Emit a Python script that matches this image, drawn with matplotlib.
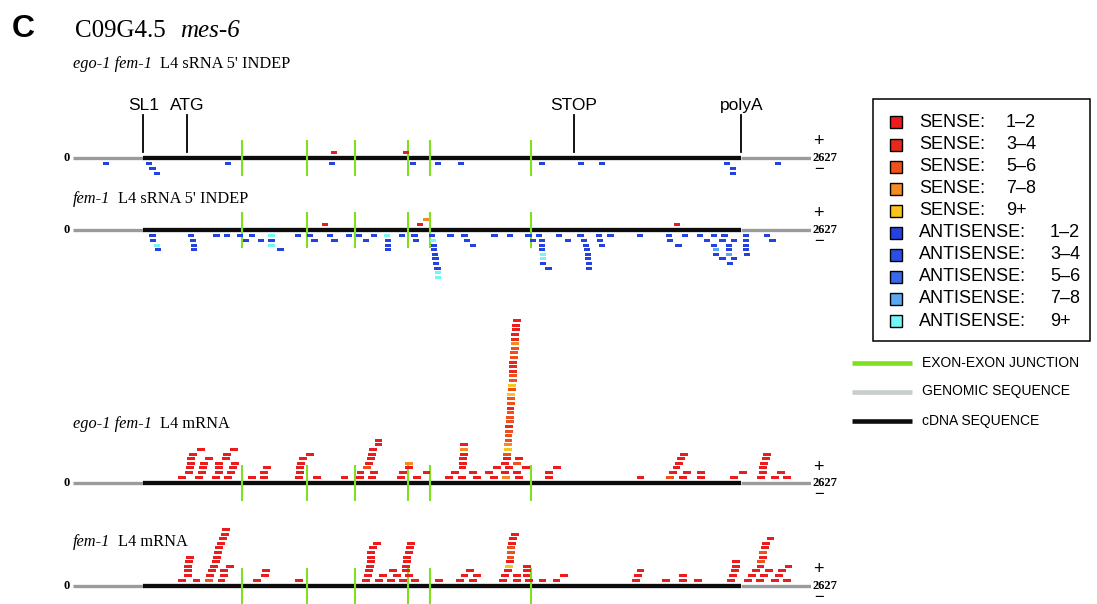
import matplotlib
matplotlib.use("Agg")
import matplotlib.pyplot as plt
from matplotlib.patches import Rectangle
from matplotlib.lines import Line2D

# ---------------------------------------------------------------- gene model
GENE_LEN = 2627
CDNA_START, CDNA_END = 250, 2380
LANDMARK_NAMES = ["SL1", "ATG", "STOP", "polyA"]
LANDMARK_POS = [250, 405, 1784, 2380]
JUNCTIONS = [601, 832, 1004, 1192, 1271, 1631]

COUNT_BINS = ["1\u20132", "3\u20134", "5\u20136", "7\u20138", "9+"]
SENSE_COLORS = ["#ec1c1c", "#e8281a", "#f2501a", "#f58a22", "#f8c51c"]
ANTI_COLORS = ["#2442e2", "#2a4ee6", "#3a68ea", "#5aa6f2", "#72f6f6"]

SRNA_LEN = 22
MRNA_LEN = 28

# reads: (start position, stack level, count bin index)
ego_srna_sense = [(918, 1, 0), (1174, 1, 0)]
ego_srna_anti = [
    (106, 1, 0), (260, 1, 0), (272, 2, 0), (288, 3, 0), (540, 1, 0),
    (910, 1, 0), (1200, 1, 0), (1288, 1, 0), (1371, 1, 0), (1660, 1, 0),
    (1798, 1, 0), (1874, 1, 0), (2319, 1, 0), (2338, 2, 0), (2338, 3, 0),
    (2499, 1, 0),
]

fem_srna_sense = [(886, 1, 0), (1224, 1, 0), (1245, 2, 3), (2140, 1, 0)]
fem_srna_anti = [
    (272, 1, 0), (274, 2, 0), (288, 3, 4), (293, 4, 0),
    (410, 1, 0), (417, 2, 0), (419, 3, 0), (419, 4, 0),
    (500, 1, 0), (538, 1, 0), (583, 1, 0), (626, 1, 0), (604, 2, 0), (659, 2, 0),
    (696, 1, 4), (696, 2, 0), (696, 3, 4), (728, 4, 0),
    (789, 1, 0), (834, 1, 0), (849, 2, 0), (903, 1, 0), (920, 2, 0),
    (972, 1, 0), (1008, 1, 0), (1032, 2, 0), (1062, 1, 0),
    (1108, 1, 4), (1111, 2, 0), (1111, 3, 0), (1111, 4, 0),
    (1162, 1, 0), (1205, 1, 0), (1210, 2, 0),
    (1268, 1, 0), (1271, 2, 4), (1275, 3, 0), (1275, 4, 0), (1277, 5, 0),
    (1280, 6, 0), (1281, 7, 0), (1287, 8, 0), (1289, 9, 4), (1289, 10, 4),
    (1333, 1, 0), (1383, 1, 0), (1392, 2, 0), (1414, 3, 0),
    (1490, 1, 0), (1544, 1, 0), (1611, 1, 0), (1627, 2, 0),
    (1649, 1, 0), (1660, 2, 0), (1660, 3, 0), (1660, 4, 0), (1663, 5, 4),
    (1663, 6, 4), (1663, 7, 0), (1682, 8, 0),
    (1720, 1, 0), (1752, 2, 0),
    (1796, 1, 0), (1809, 2, 0), (1817, 3, 0), (1820, 4, 0), (1822, 5, 0),
    (1824, 6, 0), (1827, 7, 0), (1827, 8, 0),
    (1862, 1, 0), (1865, 2, 0), (1874, 3, 0), (1903, 1, 0), (2007, 1, 0),
    (2112, 1, 0), (2114, 2, 0), (2145, 3, 0), (2169, 1, 0),
    (2223, 1, 0), (2247, 2, 0),
    (2271, 1, 0), (2271, 3, 0), (2280, 4, 3), (2280, 5, 0), (2302, 2, 0), (2302, 6, 0),
    (2309, 1, 0), (2325, 3, 0), (2325, 4, 0), (2325, 5, 3), (2342, 2, 0),
    (2344, 6, 0), (2328, 7, 0),
    (2385, 1, 0), (2387, 2, 0), (2387, 3, 0), (2387, 4, 0), (2390, 5, 0),
    (2461, 1, 0), (2480, 2, 0),
]

ego_mrna_sense = [
    # 5' region
    (374, 1, 0), (400, 2, 0), (402, 3, 0), (405, 4, 0), (407, 5, 0), (412, 6, 0), (441, 7, 0),
    (436, 1, 0), (445, 2, 0), (448, 3, 0), (452, 4, 0), (469, 5, 0),
    (495, 1, 0), (505, 2, 0), (505, 3, 0), (507, 4, 0), (531, 5, 0), (535, 6, 0), (559, 7, 0),
    (538, 1, 0), (550, 2, 0), (555, 3, 0), (562, 4, 0),
    (623, 1, 0), (666, 1, 0), (666, 2, 0), (678, 3, 0),
    (790, 1, 0), (794, 2, 0), (794, 3, 0), (799, 4, 0), (806, 5, 0), (830, 6, 0),
    (856, 1, 0), (953, 1, 0),
    (1008, 1, 0), (1010, 2, 0), (1034, 3, 2), (1039, 4, 0), (1046, 5, 0),
    (1051, 6, 0), (1053, 7, 0), (1074, 8, 0), (1074, 9, 0),
    (1051, 1, 0), (1058, 2, 0),
    (1155, 1, 0), (1162, 2, 0), (1181, 3, 0), (1181, 4, 3),
    (1210, 1, 0), (1245, 2, 0),
    # middle exons
    (1324, 1, 0), (1345, 2, 0),
    (1371, 1, 0), (1373, 3, 0), (1376, 4, 0), (1376, 5, 0), (1378, 6, 0),
    (1378, 7, 3), (1378, 8, 0),
    (1409, 2, 0), (1426, 1, 0), (1466, 2, 0), (1485, 1, 0), (1497, 3, 0),
    (1523, 2, 0), (1528, 1, 3), (1540, 3, 0),
    (1566, 2, 0), (1568, 4, 2), (1575, 1, 0), (1575, 5, 0), (1599, 3, 0),
    # highly expressed stack
    (1525, 4, 0), (1530, 5, 0), (1532, 6, 2), (1535, 7, 4), (1535, 8, 3),
    (1537, 9, 2), (1537, 10, 2), (1540, 11, 2), (1540, 12, 1), (1542, 13, 2),
    (1542, 14, 2), (1544, 15, 2), (1544, 16, 1), (1547, 17, 2), (1547, 18, 2),
    (1547, 19, 4), (1549, 20, 2), (1549, 21, 4), (1552, 22, 2), (1552, 23, 2),
    (1552, 24, 1), (1554, 25, 1), (1554, 26, 1), (1556, 27, 2), (1556, 28, 2),
    (1559, 29, 2), (1559, 30, 3), (1561, 31, 1), (1561, 32, 0), (1563, 33, 0),
    (1563, 34, 0), (1568, 35, 0),
    # 3' region
    (1680, 1, 0), (1680, 2, 0), (1710, 3, 0),
    (2007, 1, 0),
    (2112, 1, 2), (2123, 2, 0), (2135, 3, 0), (2145, 4, 0), (2152, 5, 0), (2162, 6, 0),
    (2159, 1, 0), (2171, 2, 0),
    (2221, 1, 0), (2221, 2, 0),
    (2340, 1, 0), (2373, 2, 0),
    (2437, 1, 0), (2442, 2, 0), (2444, 3, 0), (2446, 4, 0), (2453, 5, 0), (2458, 6, 0),
    (2485, 1, 0), (2506, 2, 0), (2530, 1, 0),
]

fem_mrna_sense = [
    (375, 1, 0), (395, 2, 0), (395, 3, 0), (395, 4, 0), (400, 5, 0), (402, 6, 0),
    (426, 1, 0),
    (470, 1, 2), (474, 2, 0), (482, 3, 0), (488, 4, 0), (495, 5, 0), (500, 6, 0),
    (502, 7, 0), (505, 8, 0), (512, 9, 0), (519, 10, 0), (526, 11, 0), (531, 12, 0),
    (515, 1, 0), (524, 2, 0), (524, 3, 0), (545, 4, 0),
    (640, 1, 0), (671, 2, 0), (673, 3, 0),
    (792, 1, 0),
    (1029, 1, 0), (1036, 2, 0), (1041, 3, 0), (1043, 4, 0), (1046, 5, 0),
    (1046, 6, 0), (1048, 7, 0), (1053, 8, 0), (1069, 9, 0),
    (1077, 1, 0), (1089, 2, 0), (1119, 1, 0), (1126, 3, 0), (1141, 2, 0),
    (1162, 1, 0), (1172, 3, 0), (1172, 4, 0), (1176, 5, 0), (1176, 6, 0),
    (1181, 7, 0), (1183, 2, 0), (1186, 8, 0), (1191, 9, 0),
    (1205, 1, 0),
    (1290, 1, 0), (1364, 1, 0), (1380, 2, 0), (1400, 3, 0), (1409, 1, 0), (1425, 2, 0),
    (1518, 1, 0), (1525, 2, 0), (1535, 3, 0), (1540, 4, 4), (1542, 5, 0),
    (1544, 6, 2), (1547, 7, 2), (1547, 8, 2), (1549, 9, 0), (1552, 10, 0), (1559, 11, 0),
    (1566, 1, 0), (1568, 2, 0), (1601, 2, 0), (1604, 3, 0), (1604, 4, 0),
    (1611, 1, 0), (1658, 1, 0), (1708, 1, 0), (1734, 2, 0),
    (1991, 1, 0), (1998, 2, 0), (2007, 3, 0),
    (2097, 1, 0), (2157, 1, 0), (2157, 2, 0), (2211, 1, 0),
    (2330, 1, 0), (2335, 2, 0), (2342, 3, 0), (2347, 4, 0), (2347, 5, 0),
    (2389, 1, 0), (2404, 2, 0), (2418, 3, 0),
    (2432, 1, 0), (2446, 2, 0), (2463, 3, 0), (2434, 4, 0), (2437, 5, 2),
    (2442, 6, 0), (2444, 7, 2), (2449, 8, 0), (2454, 9, 0), (2470, 10, 0),
    (2487, 1, 0), (2499, 2, 0), (2511, 3, 0), (2529, 1, 0), (2534, 4, 0),
]

# ---------------------------------------------------------------- figure
W, H = 1097, 604
fig = plt.figure(figsize=(W / 100, H / 100), dpi=100)
fig.patch.set_facecolor("white")

SERIF = "Liberation Serif"
SANS = "Liberation Sans"

LEVEL_PX = 4.6          # vertical spacing of stacked reads
X0_PX, X1_PX = 73, 810.7
ABOVE_PX, BELOW_PX = 175, 60


def fx(px):
    return px / W


def fy(py):
    return 1 - py / H


def track_axes(base_px):
    ax = fig.add_axes([fx(X0_PX), fy(base_px + BELOW_PX),
                       (X1_PX - X0_PX) / W, (ABOVE_PX + BELOW_PX) / H])
    ax.set_xlim(0, GENE_LEN)
    ax.set_ylim(-BELOW_PX / LEVEL_PX, ABOVE_PX / LEVEL_PX)
    ax.set_facecolor("none")
    ax.axis("off")
    return ax


def draw_gene(ax):
    ax.plot([0, CDNA_START], [0, 0], color="#9a9c9c", lw=2.4,
            solid_capstyle="butt", zorder=2)
    ax.plot([CDNA_END, GENE_LEN], [0, 0], color="#9a9c9c", lw=2.4,
            solid_capstyle="butt", zorder=2)
    ax.plot([CDNA_START, CDNA_END], [0, 0], color="#0c0c0c", lw=3.1,
            solid_capstyle="butt", zorder=2)
    ax.vlines(JUNCTIONS, -18 / LEVEL_PX, 18.5 / LEVEL_PX, color="#7ee01e",
              lw=1.5, zorder=3)
    ax.annotate("0", xy=(0, 0), xytext=(-3, 0), textcoords="offset pixels",
                ha="right", va="center", fontsize=9, family=SERIF,
                fontweight="bold")
    ax.annotate(str(GENE_LEN), xy=(GENE_LEN, 0), xytext=(2, 0),
                textcoords="offset pixels", ha="left", va="center",
                fontsize=9, family=SERIF, fontweight="bold")
    ax.annotate("+", xy=(GENE_LEN, 0), xytext=(8, 16),
                textcoords="offset pixels", ha="center", va="center",
                fontsize=13, family=SANS)
    ax.annotate("\u2212", xy=(GENE_LEN, 0), xytext=(8, -11.5),
                textcoords="offset pixels", ha="center", va="center",
                fontsize=12, family=SANS)


def draw_reads(ax, reads, strand, length, colors):
    pos = [r[0] for r in reads]
    lvl = [r[1] for r in reads]
    col = [colors[r[2]] for r in reads]
    bottoms = [strand * (l + 0.28) - 0.33 for l in lvl]
    ax.bar(pos, 0.66, width=length, bottom=bottoms, align="edge",
           color=col, linewidth=0, zorder=4)


def track_label(italic, roman, x_px, base_px):
    t1 = fig.text(fx(x_px), fy(base_px), italic, family=SERIF, style="italic",
                  fontsize=11.8, va="baseline")
    fig.canvas.draw()
    x1 = t1.get_window_extent().x1
    fig.text(x1 / W + 8 / W, fy(base_px), roman, family=SERIF,
             fontsize=11.8, va="baseline")


# track 1
ax1 = track_axes(158)
draw_gene(ax1)
draw_reads(ax1, ego_srna_sense, 1, SRNA_LEN, SENSE_COLORS)
draw_reads(ax1, ego_srna_anti, -1, SRNA_LEN, ANTI_COLORS)
for name, p in zip(LANDMARK_NAMES, LANDMARK_POS):
    ax1.plot([p, p], [6 / LEVEL_PX, 43 / LEVEL_PX], color="black", lw=1.3,
             zorder=3)
    ax1.annotate(name, xy=(p, 43 / LEVEL_PX), xytext=(0, 5),
                 textcoords="offset pixels", ha="center", va="baseline",
                 fontsize=12.5, family=SANS)

# track 2
ax2 = track_axes(230)
draw_gene(ax2)
draw_reads(ax2, fem_srna_sense, 1, SRNA_LEN, SENSE_COLORS)
draw_reads(ax2, fem_srna_anti, -1, SRNA_LEN, ANTI_COLORS)

# track 3
ax3 = track_axes(483)
draw_gene(ax3)
draw_reads(ax3, ego_mrna_sense, 1, MRNA_LEN, SENSE_COLORS)

# track 4
ax4 = track_axes(586)
draw_gene(ax4)
draw_reads(ax4, fem_mrna_sense, 1, MRNA_LEN, SENSE_COLORS)

# titles
fig.text(fx(12), fy(37), "C", family=SANS, fontweight="bold", fontsize=23,
         va="baseline")
fig.text(fx(75), fy(37), "C09G4.5", family=SERIF, fontsize=18, va="baseline")
fig.text(fx(180), fy(37), "mes-6", family=SERIF, style="italic", fontsize=18,
         va="baseline")
track_label("ego-1 fem-1", "L4 sRNA 5' INDEP", 73, 68)
track_label("fem-1", "L4 sRNA 5' INDEP", 73, 203)
track_label("ego-1 fem-1", "L4 mRNA", 73, 428)
track_label("fem-1", "L4 mRNA", 73, 546)

# count legend
fig.add_artist(Rectangle((fx(873), fy(340.5)), (1090 - 873) / W,
                         (340.5 - 99) / H, transform=fig.transFigure,
                         fill=False, ec="black", lw=1.1))
legend_rows = ([("SENSE:", b, c) for b, c in zip(COUNT_BINS, SENSE_COLORS)] +
               [("ANTISENSE:", b, c) for b, c in zip(COUNT_BINS, ANTI_COLORS)])
for i, (kind, b, c) in enumerate(legend_rows):
    yc = 122.5 + i * 22.06
    fig.add_artist(Rectangle((fx(890), fy(yc + 6)), 12 / W, 12 / H,
                             transform=fig.transFigure, fc=c, ec="black",
                             lw=1.0))
    fig.text(fx(919), fy(yc), kind, family=SANS, fontsize=13, va="center")
    xb = 1006 if kind == "SENSE:" else 1050
    fig.text(fx(xb), fy(yc), b, family=SANS, fontsize=13, va="center")

# line legend
for y, c, label in [(363, "#7ee01e", "EXON-EXON JUNCTION"),
                    (391.5, "#c8cccc", "GENOMIC SEQUENCE"),
                    (420.5, "#0c0c0c", "cDNA SEQUENCE")]:
    fig.add_artist(Line2D([fx(852), fx(912)], [fy(y), fy(y)],
                          transform=fig.transFigure, color=c, lw=3.3,
                          solid_capstyle="butt"))
    fig.text(fx(922), fy(y), label, family=SANS, fontsize=10, va="center")

fig.savefig("out.png", dpi=100, facecolor="white")
